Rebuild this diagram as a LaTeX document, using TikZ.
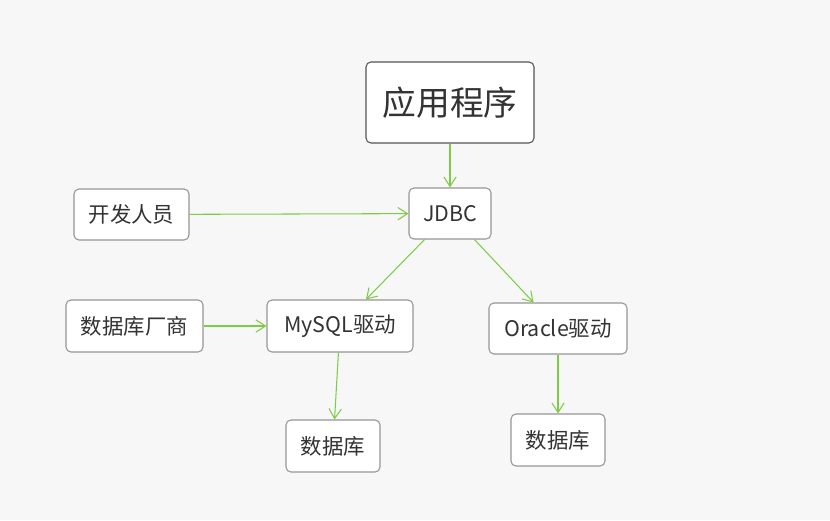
\documentclass[tikz,border=0pt]{standalone}
\usepackage{fontspec}
\setmainfont{Noto Sans CJK SC}
\usetikzlibrary{arrows.meta}
\definecolor{bggray}{RGB}{247,247,247}
\definecolor{boxline}{RGB}{150,150,150}
\definecolor{appline}{RGB}{80,84,90}
\definecolor{txtgray}{RGB}{51,51,51}
\definecolor{linkgreen}{RGB}{126,204,70}
\tikzset{
  box/.style={draw=boxline, fill=white, rounded corners=2.8pt, line width=0.6pt,
    inner sep=0pt, text=txtgray, font=\fontsize{12.2pt}{14pt}\selectfont},
  link/.style={draw=linkgreen, line width=0.6pt, -{Straight Barb[length=5.5pt,width=7pt]}}
}
\begin{document}
\begin{tikzpicture}[x=0.02cm, y=-0.02cm]
\fill[bggray] (0,0) rectangle (830,520);

% Nodes
\node[box, draw=appline, minimum width=3.36cm, minimum height=1.62cm,
  font=\fontsize{19.2pt}{21pt}\selectfont] (app) at (450,102.5) {应用程序};
\node[box, minimum width=1.64cm, minimum height=1.02cm] (jdbc) at (450,213.5) {JDBC};
\node[box, minimum width=2.30cm, minimum height=1.02cm] (dev) at (131.5,214.5) {开发人员};
\node[box, minimum width=2.74cm, minimum height=1.04cm] (vendor) at (134.5,326) {数据库厂商};
\node[box, minimum width=2.92cm, minimum height=1.04cm] (mysql) at (340,326) {MySQL驱动};
\node[box, minimum width=2.76cm, minimum height=1.02cm] (oracle) at (558,328.5) {Oracle驱动};
\node[box, minimum width=1.88cm, minimum height=1.04cm] (dbl) at (333,446) {数据库};
\node[box, minimum width=1.88cm, minimum height=1.04cm] (dbr) at (558,440) {数据库};

% Arrows
\draw[link] (app) -- (jdbc);
\draw[link] (dev) -- (jdbc);
\draw[link] (jdbc) -- (mysql);
\draw[link] (jdbc) -- (oracle);
\draw[link] (vendor) -- (mysql);
\draw[link] (mysql) -- (dbl);
\draw[link] (oracle) -- (dbr);

\end{tikzpicture}
\end{document}
